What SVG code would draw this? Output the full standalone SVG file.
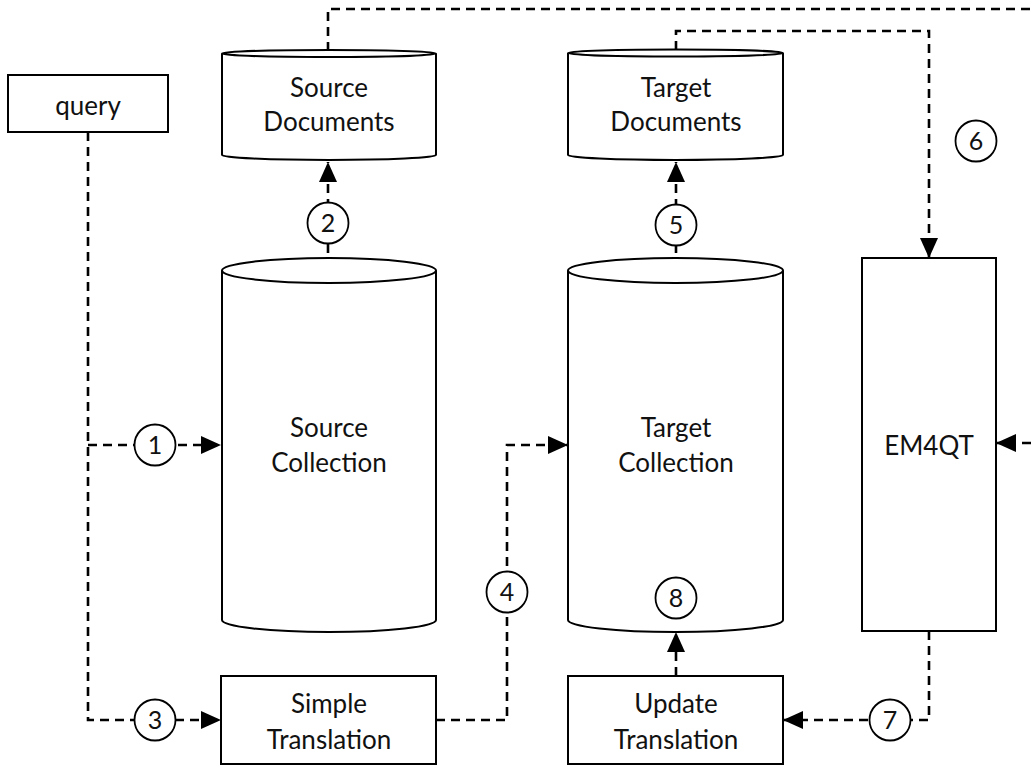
<svg xmlns="http://www.w3.org/2000/svg" width="1031" height="767" viewBox="0 0 1031 767">
<style>
.shape{fill:#fff;stroke:#000;stroke-width:2}
.lbl{font-family:Lato,"Liberation Sans",sans-serif;font-size:26px;fill:#111;text-anchor:middle}
.num{font-family:Lato,"Liberation Sans",sans-serif;font-size:25px;fill:#111;text-anchor:middle}
.conn{fill:none;stroke:#000;stroke-width:2.6;stroke-dasharray:9,6}
.badge{fill:#fff;stroke:#000;stroke-width:1.8}
</style>
<defs>
<marker id="arr" markerUnits="userSpaceOnUse" markerWidth="20" markerHeight="18" refX="20" refY="9" orient="auto">
<path d="M0,0 L20,9 L0,18 z" fill="#000"/>
</marker>
</defs>
<g id="connectors">
<path class="conn" d="M88,132 V720 H221" marker-end="url(#arr)"/>
<path class="conn" d="M88,445 H221" marker-end="url(#arr)"/>
<path class="conn" d="M328,283 V162" marker-end="url(#arr)"/>
<path class="conn" d="M328,51 V9 H1031"/>
<path class="conn" d="M1031,443 H996" marker-end="url(#arr)"/>
<path class="conn" d="M436,720 H507 V445 H568" marker-end="url(#arr)"/>
<path class="conn" d="M676,283 V162" marker-end="url(#arr)"/>
<path class="conn" d="M676,50 V31 H929 V258" marker-end="url(#arr)"/>
<path class="conn" d="M929,631 V720 H783" marker-end="url(#arr)"/>
<path class="conn" d="M676,676 V632" marker-end="url(#arr)"/>
</g>
<g id="query">
<rect class="shape" x="8" y="75" width="160" height="57"/>
<text class="lbl" x="88" y="115">query</text>
</g>
<g id="source-documents">
<path class="shape" d="M222,53.5 V155 A107,5 0 0 0 436,155 V53.5"/>
<ellipse class="shape" cx="329" cy="53.5" rx="107" ry="3.5"/>
<text class="lbl" x="329" y="97">Source</text>
<text class="lbl" x="329" y="131">Documents</text>
</g>
<g id="target-documents">
<path class="shape" d="M568,53 V155 A107.5,5 0 0 0 783,155 V53"/>
<ellipse class="shape" cx="675.5" cy="53" rx="107.5" ry="3.5"/>
<text class="lbl" x="676" y="97">Target</text>
<text class="lbl" x="676" y="131">Documents</text>
</g>
<g id="source-collection">
<path class="shape" d="M222,270.5 V620 A107,12 0 0 0 436,620 V270.5"/>
<ellipse class="shape" cx="329" cy="270.5" rx="107" ry="12.5"/>
<text class="lbl" x="329" y="437">Source</text>
<text class="lbl" x="329" y="472">Collection</text>
</g>
<g id="target-collection">
<path class="shape" d="M568,270.5 V620 A107.5,12 0 0 0 783,620 V270.5"/>
<ellipse class="shape" cx="675.5" cy="270.5" rx="107.5" ry="12.5"/>
<text class="lbl" x="676" y="437">Target</text>
<text class="lbl" x="676" y="472">Collection</text>
</g>
<g id="em4qt">
<rect class="shape" x="862" y="258" width="134" height="373"/>
<text class="lbl" x="929" y="455">EM4QT</text>
</g>
<g id="simple-translation">
<rect class="shape" x="221" y="676" width="215" height="88"/>
<text class="lbl" x="329" y="713">Simple</text>
<text class="lbl" x="329" y="749">Translation</text>
</g>
<g id="update-translation">
<rect class="shape" x="568" y="676" width="215" height="88"/>
<text class="lbl" x="676" y="713">Update</text>
<text class="lbl" x="676" y="749">Translation</text>
</g>
<g id="badges">
<circle class="badge" cx="155" cy="445" r="20.5"/><text class="num" x="155" y="454">1</text>
<circle class="badge" cx="328" cy="223" r="20.5"/><text class="num" x="328" y="232">2</text>
<circle class="badge" cx="155" cy="720" r="20.5"/><text class="num" x="155" y="729">3</text>
<circle class="badge" cx="507" cy="592" r="20.5"/><text class="num" x="507" y="601">4</text>
<circle class="badge" cx="676" cy="225" r="20.5"/><text class="num" x="676" y="234">5</text>
<circle class="badge" cx="976" cy="141" r="20.5"/><text class="num" x="976" y="150">6</text>
<circle class="badge" cx="890" cy="720" r="20.5"/><text class="num" x="890" y="729">7</text>
<circle class="badge" cx="676" cy="598" r="20.5"/><text class="num" x="676" y="607">8</text>
</g>
</svg>
